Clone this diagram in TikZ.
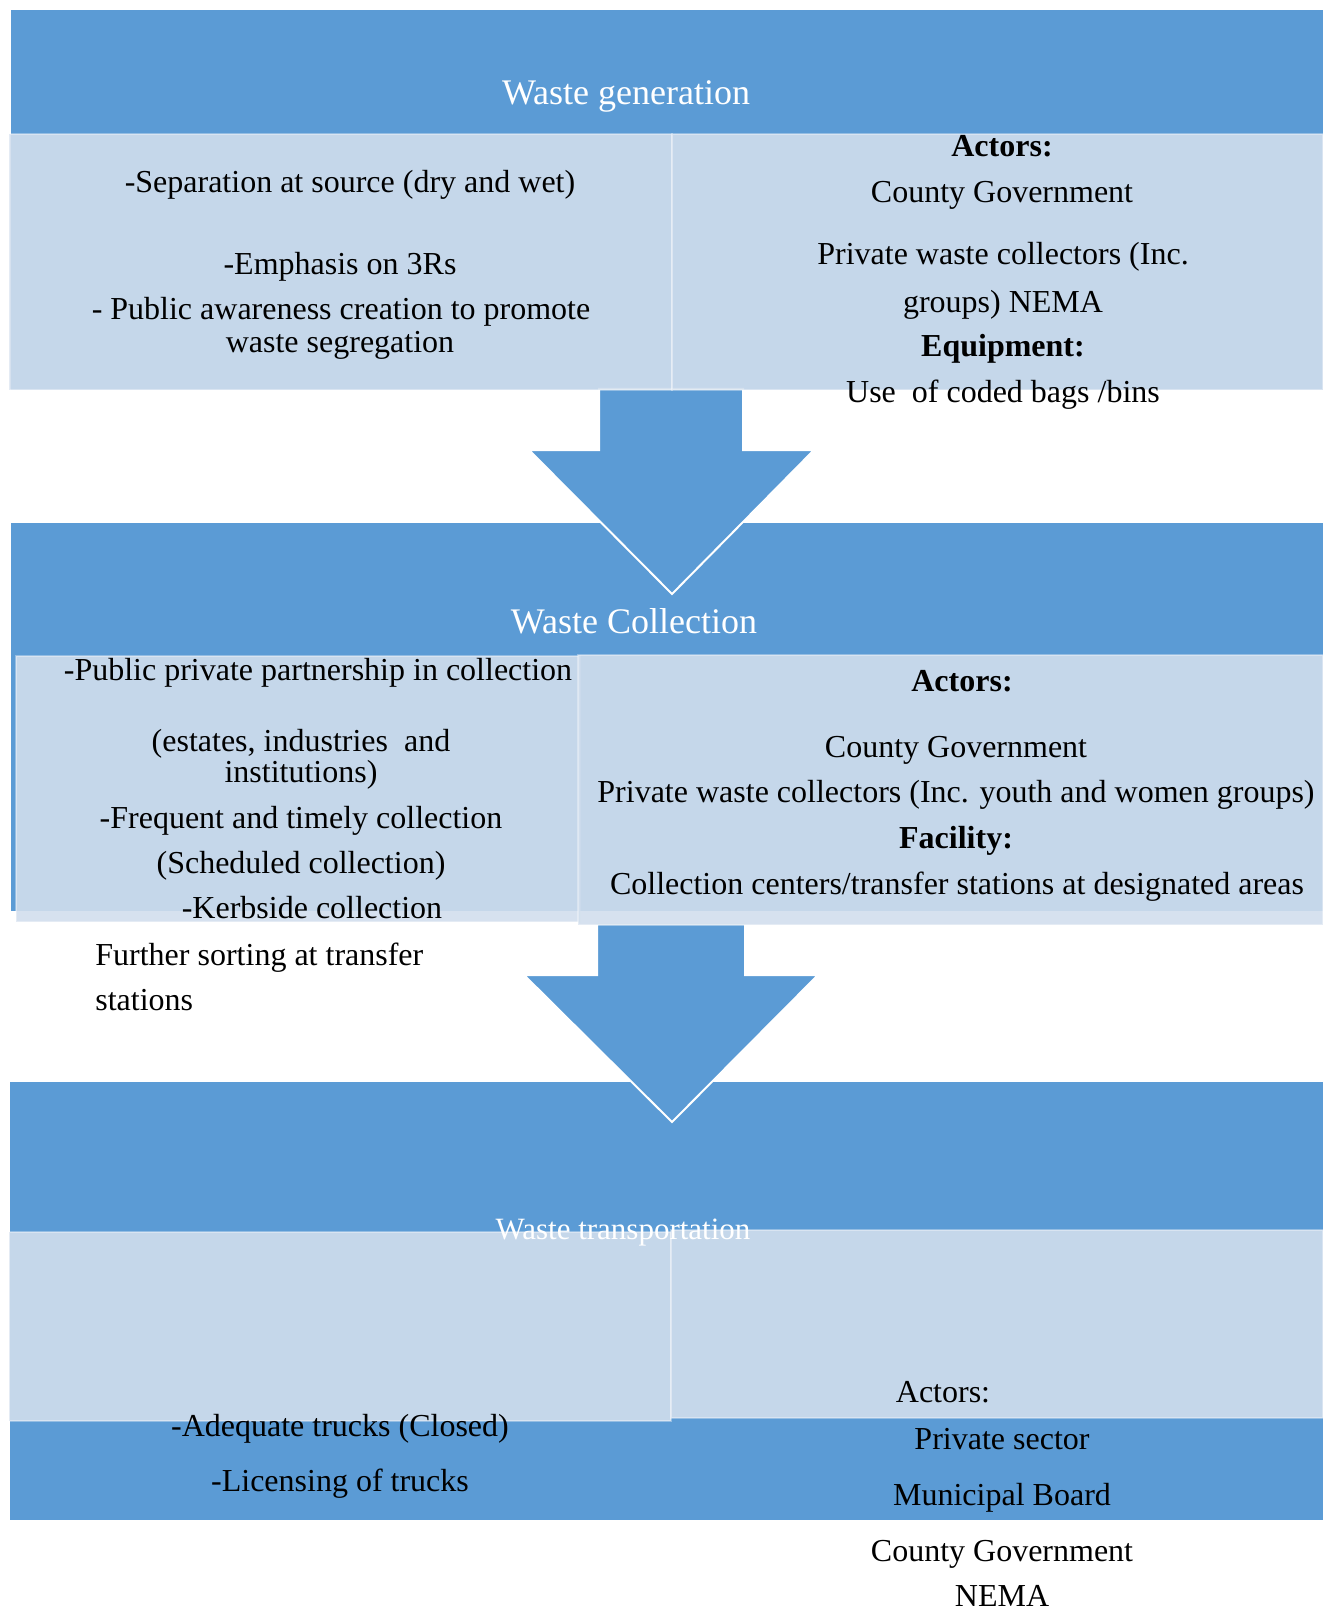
\documentclass[tikz,border=0pt]{standalone}
\usepackage{fontspec}
\setmainfont{Liberation Serif}
\definecolor{dkblue}{RGB}{91,155,213}
\definecolor{ltblue}{RGB}{209,222,237}
\begin{document}
\begin{tikzpicture}[x=0.5pt,y=-0.5pt,
  band/.style={fill=dkblue, draw=none},
  lightbox/.style={fill=ltblue, fill opacity=0.9, draw=white, draw opacity=0.35, line width=0.8pt},
  bigarrow/.style={fill=dkblue, draw=white, line width=1pt, line join=miter},
  txt/.style={inner sep=0pt, anchor=base, text=black, font=\fontsize{16}{19}\selectfont},
  btxt/.style={txt, font=\fontsize{16}{19}\selectfont\bfseries},
  head/.style={inner sep=0pt, anchor=base, text=white, font=\fontsize{18}{22}\selectfont},
  shead/.style={inner sep=0pt, anchor=base, text=white, font=\fontsize{15.5}{19}\selectfont}]
\useasboundingbox (0,0) rectangle (1323,1609);

% dark bands
\path[band] (11,10) rectangle (1323,390);
\path[band] (11,523) rectangle (1323,911);
\path[band] (10,1082) rectangle (1323,1520);

% block arrows
\path[bigarrow] (599,389) -- (743,389) -- (743,450) -- (814,450) -- (672,594)
  -- (529,450) -- (599,450) -- cycle;
\path[bigarrow] (597,924) -- (745,924) -- (745,975) -- (818,975) -- (672,1122)
  -- (524,975) -- (597,975) -- cycle;

% light boxes
\path[lightbox] (9,134) rectangle (672,390);
\path[lightbox] (672,134) rectangle (1323,390);
\path[lightbox] (16,656) rectangle (580,922);
\path[lightbox] (578,655) rectangle (1323,925);
\path[lightbox] (9,1232) rectangle (671,1421);
\path[lightbox] (671,1230) rectangle (1323,1418);

% stage 1
\node[head] (h1) at (626,105) {Waste generation};
\node[txt] (l1a) at (350,193) {-Separation at source (dry and wet)};
\node[txt] (l1b) at (340,275) {-Emphasis on 3Rs};
\node[txt] (l1c) at (341,320) {- Public awareness creation to promote};
\node[txt] (l1d) at (340,353) {waste segregation};
\node[btxt] (r1a) at (1002,157) {Actors:};
\node[txt] (r1b) at (1002,203) {County Government};
\node[txt] (r1c) at (1003,265) {Private waste collectors (Inc.};
\node[txt] (r1d) at (1003,313) {groups) NEMA};
\node[btxt] (r1e) at (1003,357) {Equipment:};
\node[txt] (r1f) at (1003,402) {Use\ \ of coded bags /bins};

% stage 2
\node[head] (h2) at (634,633) {Waste Collection};
\node[txt] (l2a) at (318,680) {-Public private partnership in collection};
\node[txt] (l2b) at (301,751) {(estates, industries\ \ and};
\node[txt] (l2c) at (301,782) {institutions)};
\node[txt] (l2d) at (301,828) {-Frequent and timely collection};
\node[txt] (l2e) at (301,873) {(Scheduled collection)};
\node[txt] (l2f) at (312,918) {-Kerbside collection};
\node[txt, anchor=base west] (l2g) at (95,965) {Further sorting at transfer};
\node[txt, anchor=base west] (l2h) at (95,1010) {stations};
\node[btxt] (r2a) at (962,691) {Actors:};
\node[txt] (r2b) at (956,757) {County Government};
\node[txt] (r2c) at (956,802) {Private waste collectors (Inc. youth and women groups)};
\node[btxt] (r2d) at (956,848) {Facility:};
\node[txt] (r2e) at (957,894) {Collection centers/transfer stations at designated areas};

% stage 3
\node[shead] (h3) at (623,1239) {Waste transportation};
\node[txt] (l3a) at (340,1436) {-Adequate trucks (Closed)};
\node[txt] (l3b) at (340,1491) {-Licensing of trucks};
\node[txt] (r3a) at (943,1402) {Actors:};
\node[txt] (r3b) at (1002,1449) {Private sector};
\node[txt] (r3c) at (1002,1505) {Municipal Board};
\node[txt] (r3d) at (1002,1561) {County Government};
\node[txt] (r3e) at (1002,1606) {NEMA};
\end{tikzpicture}
\end{document}
